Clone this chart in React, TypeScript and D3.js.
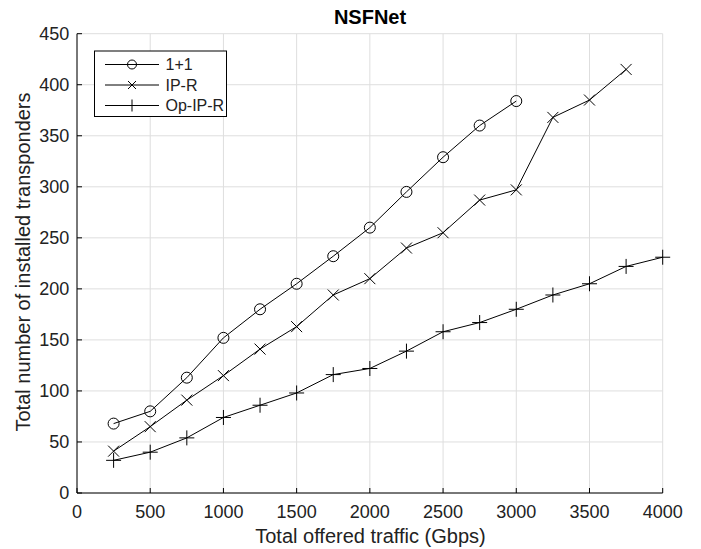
import React from "react";
import * as d3 from "d3";

const traffic = [250, 500, 750, 1000, 1250, 1500, 1750, 2000, 2250, 2500, 2750, 3000, 3250, 3500, 3750, 4000];
const onePlusOne = [68, 80, 113, 152, 180, 205, 232, 260, 295, 329, 360, 384];
const ipR = [41, 65, 91, 115, 141, 163, 194, 210, 240, 255, 287, 297, 368, 385, 415];
const opIpR = [32, 40, 54, 74, 86, 98, 116, 122, 139, 158, 167, 180, 194, 205, 222, 231];
const xTicks = [0, 500, 1000, 1500, 2000, 2500, 3000, 3500, 4000];
const yTicks = [0, 50, 100, 150, 200, 250, 300, 350, 400, 450];
const seriesNames = ["1+1", "IP-R", "Op-IP-R"];

const W = 701, H = 549;
const L = 77, R = 662.7, T = 33.7, B = 493;
const FONT = "'Liberation Sans', Arial, Helvetica, sans-serif";

function Marker({ type, x, y, s }: { type: string; x: number; y: number; s: number }) {
  if (type === "circle") return <circle cx={x} cy={y} r={s} fill="none" stroke="#000" strokeWidth={1} />;
  if (type === "x")
    return (
      <path d={`M${x - s},${y - s}L${x + s},${y + s}M${x - s},${y + s}L${x + s},${y - s}`} stroke="#000" strokeWidth={1} />
    );
  return <path d={`M${x - s},${y}L${x + s},${y}M${x},${y - s}L${x},${y + s}`} stroke="#000" strokeWidth={1} />;
}

export default function App() {
  const x = d3.scaleLinear().domain([0, 4000]).range([L, R]);
  const y = d3.scaleLinear().domain([0, 450]).range([B, T]);
  const series = [
    { name: seriesNames[0], vals: onePlusOne, m: "circle", s: 5.5, ls: 4.5 },
    { name: seriesNames[1], vals: ipR, m: "x", s: 5.5, ls: 4 },
    { name: seriesNames[2], vals: opIpR, m: "plus", s: 7.5, ls: 6 },
  ];
  const line = d3
    .line<number>()
    .x((_, i) => x(traffic[i]))
    .y((d) => y(d));

  return (
    <svg width={W} height={H} style={{ position: "absolute", left: 0, top: 0, background: "#fff" }} fontFamily={FONT}>
      <rect x={0} y={0} width={W} height={H} fill="#fff" />
      {xTicks.map((t) => (
        <line key={"gx" + t} x1={x(t)} x2={x(t)} y1={T} y2={B} stroke="#dedede" strokeWidth={1} />
      ))}
      {yTicks.map((t) => (
        <line key={"gy" + t} x1={L} x2={R} y1={y(t)} y2={y(t)} stroke="#dedede" strokeWidth={1} />
      ))}
      <line x1={L} x2={L} y1={T} y2={B} stroke="#000" />
      <line x1={L} x2={R} y1={B} y2={B} stroke="#000" />
      {xTicks.map((t) => (
        <g key={"tx" + t}>
          <line x1={x(t)} x2={x(t)} y1={B} y2={B - 5} stroke="#000" />
          <text x={x(t)} y={B + 24.5} fontSize={18} textAnchor="middle" fill="#222">{t}</text>
        </g>
      ))}
      {yTicks.map((t) => (
        <g key={"ty" + t}>
          <line x1={L} x2={L + 5} y1={y(t)} y2={y(t)} stroke="#000" />
          <text x={L - 7.7} y={y(t) + 6.4} fontSize={18} textAnchor="end" fill="#222">{t}</text>
        </g>
      ))}
      {series.map((s) => (
        <g key={s.name}>
          <path d={line(s.vals) || ""} fill="none" stroke="#000" strokeWidth={1} />
          {s.vals.map((v, i) => (
            <Marker key={i} type={s.m} x={x(traffic[i])} y={y(v)} s={s.s} />
          ))}
        </g>
      ))}
      <text x={370} y={24} fontSize={20} fontWeight="bold" textAnchor="middle" fill="#000">NSFNet</text>
      <text x={370.5} y={543} fontSize={20} textAnchor="middle" fill="#222">Total offered traffic (Gbps)</text>
      <text transform={`translate(29.5,262) rotate(-90)`} fontSize={20} textAnchor="middle" fill="#222">
        Total number of installed transponders
      </text>
      <rect x={94.5} y={51} width={132} height={65.5} fill="#fff" stroke="#000" strokeWidth={1} />
      {series.map((s, i) => {
        const ly = 64.5 + i * 20.5;
        return (
          <g key={"lg" + s.name}>
            <line x1={105} x2={159} y1={ly} y2={ly} stroke="#000" />
            <Marker type={s.m} x={132} y={ly} s={s.ls} />
            <text x={165.5} y={ly + 5.8} fontSize={16} fill="#222">{s.name}</text>
          </g>
        );
      })}
    </svg>
  );
}
